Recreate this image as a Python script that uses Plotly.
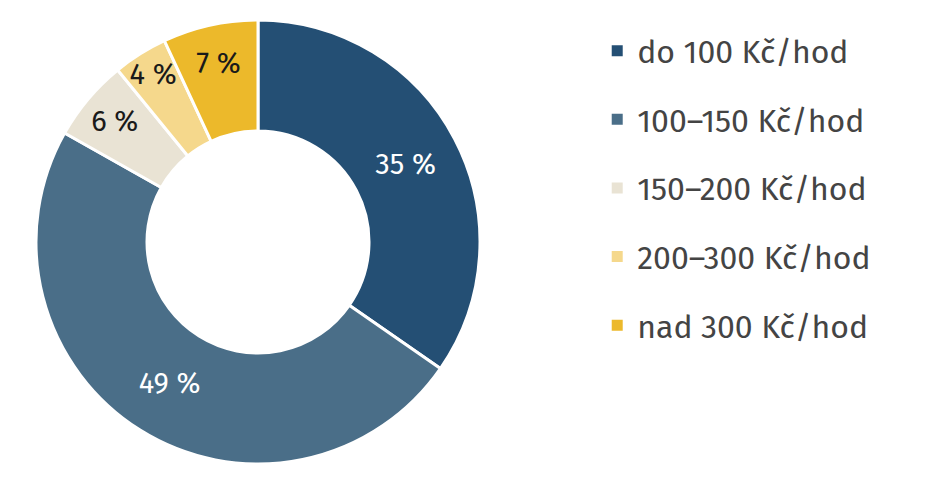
import plotly.graph_objects as go

# podíl podle hodinové sazby
labels = ["do 100 Kč/hod", "100–150 Kč/hod", "150–200 Kč/hod", "200–300 Kč/hod", "nad 300 Kč/hod"]
values = [35, 49, 6, 4, 7]
colors = ["#244f74", "#4a6e88", "#e9e3d4", "#f5d88c", "#ecb92b"]
text_colors = ["white", "white", "#1a1a1a", "#1a1a1a", "#1a1a1a"]

W, H = 925, 483
font = "Fira Sans, Noto Sans, sans-serif"

fig = go.Figure()

fig.add_trace(go.Pie(
    labels=labels,
    values=values,
    hole=0.5,
    sort=False,
    direction="clockwise",
    rotation=0,
    marker=dict(colors=colors, line=dict(color="white", width=3)),
    texttemplate="%{value} %",
    textposition="inside",
    insidetextorientation="horizontal",
    insidetextfont=dict(color=text_colors, size=29, family=font),
    showlegend=False,
    domain=dict(x=[28 / W, 472 / W], y=[1 - 456 / H, 1 - 12 / H]),
))

# legend entries (square markers, spaced apart)
for i, (lab, col) in enumerate(zip(labels, colors)):
    fig.add_trace(go.Scatter(
        x=[None], y=[None], mode="markers", name=lab,
        marker=dict(symbol="square", size=11, color=col),
        legendgroup=str(i),
    ))

fig.update_layout(
    width=W, height=H,
    margin=dict(l=0, r=0, t=0, b=0),
    paper_bgcolor="white", plot_bgcolor="white",
    font=dict(family=font),
    uniformtext=dict(minsize=29, mode="show"),
    xaxis=dict(visible=False), yaxis=dict(visible=False),
    legend=dict(
        x=0.637, y=0.968, xanchor="left", yanchor="top",
        font=dict(size=32, color="#444444", family=font),
        tracegroupgap=24,
        itemwidth=30,
    ),
)

fig.write_html("out.html")
